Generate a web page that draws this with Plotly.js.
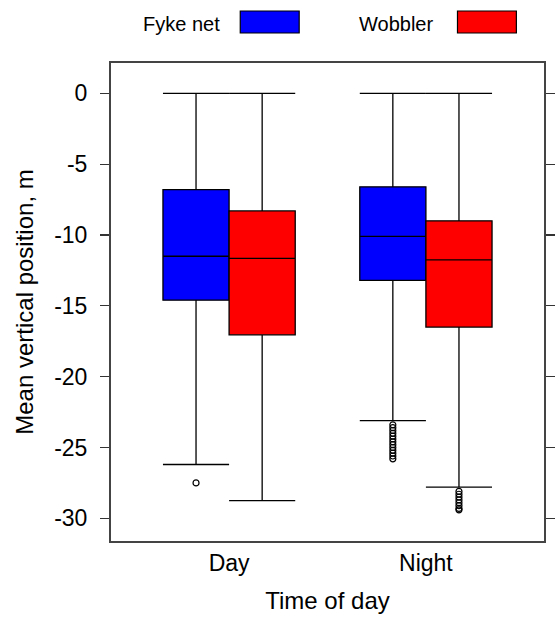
<!DOCTYPE html>
<html>
<head>
<meta charset="utf-8">
<script src="https://cdn.plot.ly/plotly-3.0.1.min.js"></script>
<style>html,body{margin:0;padding:0;background:#fff;}#chart{width:557px;height:617px;}</style>
</head>
<body>
<div id="chart"></div>
<script>
// ---- data ----
var categories = ['Day', 'Night'];
var seriesNames = ['Fyke net', 'Wobbler'];
var seriesColors = ['#0000FF', '#FF0000'];

var fykeUpper  = [0, 0];
var fykeQ3     = [-6.8, -6.6];
var fykeMedian = [-11.5, -10.1];
var fykeQ1     = [-14.6, -13.2];
var fykeLower  = [-26.2, -23.1];
// sample points beyond the whiskers (only those outside the fences are drawn)
var fykePoints = [
  [-27.5],
  [-23.4, -23.6, -23.8, -24.0, -24.2, -24.4, -24.6, -24.8, -25.0, -25.2, -25.4, -25.6, -25.8]
];

var wobUpper  = [0, 0];
var wobQ3     = [-8.3, -9.0];
var wobMedian = [-11.65, -11.75];
var wobQ1     = [-17.05, -16.5];
var wobLower  = [-28.75, -27.8];
// Day has no outliers: only the whisker-end value (not drawn)
var wobPoints = [
  [-28.75],
  [-28.1, -28.3, -28.5, -28.7, -28.9, -29.1, -29.3, -29.4]
];

var yTickVals = [0, -5, -10, -15, -20, -25, -30];

// ---- traces ----
function boxTrace(name, color, q1, med, q3, lo, hi, pts) {
  return {
    type: 'box',
    name: name,
    x: categories,
    y: pts,
    q1: q1, median: med, q3: q3,
    lowerfence: lo, upperfence: hi,
    fillcolor: color,
    line: {color: '#000000', width: 1.3},
    whiskerwidth: 1,
    boxpoints: 'outliers',
    jitter: 0,
    pointpos: 0,
    marker: {symbol: 'circle-open', color: '#000000', size: 6, line: {width: 1.2}},
    showlegend: false,
    hoverinfo: 'skip'
  };
}

var traces = [
  boxTrace(seriesNames[0], seriesColors[0], fykeQ1, fykeMedian, fykeQ3, fykeLower, fykeUpper, fykePoints),
  boxTrace(seriesNames[1], seriesColors[1], wobQ1, wobMedian, wobQ3, wobLower, wobUpper, wobPoints)
];

var fontFam = 'Liberation Sans, Arial, sans-serif';

var layout = {
  width: 557, height: 617,
  margin: {l: 111, r: 13, t: 63, b: 76},
  paper_bgcolor: '#ffffff',
  plot_bgcolor: '#ffffff',
  font: {family: fontFam, color: '#000000', size: 20},
  boxmode: 'group',
  boxgap: 0.328,
  boxgroupgap: 0,
  showlegend: false,
  xaxis: {
    type: 'category',
    range: [-0.6, 1.6],
    showline: true, linecolor: '#444444', linewidth: 2, mirror: true,
    ticks: '', showgrid: false, zeroline: false,
    tickfont: {size: 23, family: fontFam},
    title: {text: 'Time of day', font: {size: 24, family: fontFam}, standoff: 18}
  },
  yaxis: {
    range: [-31.6, 2.14],
    tickvals: yTickVals,
    ticktext: yTickVals.map(String),
    showline: true, linecolor: '#444444', linewidth: 2, mirror: 'ticks',
    ticks: 'outside', ticklen: 9, tickwidth: 1.2, tickcolor: '#333333',
    ticklabelstandoff: 8,
    showgrid: false, zeroline: false,
    tickfont: {size: 23, family: fontFam},
    title: {text: 'Mean vertical position, m', font: {size: 24, family: fontFam}, standoff: 14}
  },
  annotations: [
    {text: seriesNames[0], xref: 'paper', yref: 'paper', x: 0.0686, y: 1.0816,
     xanchor: 'left', yanchor: 'middle', showarrow: false, font: {size: 20, family: fontFam}},
    {text: seriesNames[1], xref: 'paper', yref: 'paper', x: 0.5680, y: 1.0816,
     xanchor: 'left', yanchor: 'middle', showarrow: false, font: {size: 20, family: fontFam}}
  ],
  shapes: [
    {type: 'rect', xref: 'paper', yref: 'paper', x0: 0.2985, x1: 0.4346, y0: 1.0628, y1: 1.1088,
     fillcolor: seriesColors[0], line: {color: '#000000', width: 1.2}},
    {type: 'rect', xref: 'paper', yref: 'paper', x0: 0.8002, x1: 0.9362, y0: 1.0628, y1: 1.1088,
     fillcolor: seriesColors[1], line: {color: '#000000', width: 1.2}}
  ]
};

Plotly.newPlot('chart', traces, layout, {displayModeBar: false, staticPlot: true});
</script>
</body>
</html>
